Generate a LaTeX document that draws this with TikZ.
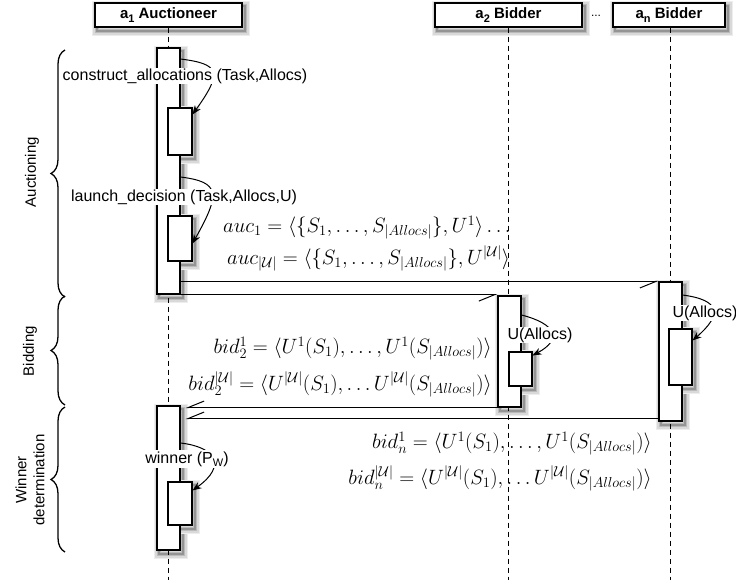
\documentclass[tikz,border=0pt]{standalone}
\usepackage[no-math]{fontspec}
\newfontfamily\hv{Liberation Sans}
\usepackage{amsmath}
\usetikzlibrary{arrows.meta,decorations.pathreplacing}
\pgfdeclarelayer{background}
\pgfsetlayers{background,main}
\newcommand{\lowsub}[2]{#1\raisebox{-3.5pt}{\fontsize{11}{12}\selectfont #2}}
\newcommand{\AL}{\smash{|Allocs|}}
\newcommand{\UU}{\smash{|\mathcal{U}|}}
\newcommand{\shadowof}[1]{%
  \draw[black!7,line width=10pt] ([xshift=2.5pt,yshift=-3.5pt]#1.north west) rectangle ([xshift=2.5pt,yshift=-3.5pt]#1.south east);
  \draw[black!15,line width=7pt] ([xshift=2.5pt,yshift=-3.5pt]#1.north west) rectangle ([xshift=2.5pt,yshift=-3.5pt]#1.south east);
  \draw[black!27,line width=4pt] ([xshift=2.5pt,yshift=-3.5pt]#1.north west) rectangle ([xshift=2.5pt,yshift=-3.5pt]#1.south east);
  \draw[black!42,line width=1.5pt] ([xshift=2.5pt,yshift=-3.5pt]#1.north west) rectangle ([xshift=2.5pt,yshift=-3.5pt]#1.south east);}
\begin{document}
\begin{tikzpicture}[x=1pt,y=-1pt,
  head/.style={draw,line width=1.2pt,fill=white,minimum height=24pt,inner sep=0pt,
    font=\hv\bfseries\fontsize{15}{18}\selectfont},
  bar/.style={draw,line width=1.1pt,fill=white,minimum width=23pt,inner sep=0pt},
  life/.style={line width=1pt,dash pattern=on 5pt off 4pt},
  lbl/.style={fill=white,inner sep=1pt,font=\hv\fontsize{16}{19}\selectfont},
  self/.style={line width=1pt,-{Stealth[length=9pt,width=7pt]}},
  msg/.style={line width=1pt,-{Straight Barb[right,length=16pt,width=13pt]}},
  frm/.style={inner sep=0pt,font=\fontsize{20}{24}\selectfont},
  brc/.style={line width=1.3pt,decorate,decoration={brace,amplitude=14pt,aspect=0.5}},
  phase/.style={font=\hv\fontsize{15}{18}\selectfont,rotate=90,align=center}]
\useasboundingbox (0,0) rectangle (736,582);
% headers
\node[head,minimum width=147pt] (h1) at (168.5,15) {\lowsub{a}{1} Auctioneer};
\node[head,minimum width=147pt] (h2) at (508.5,15) {\lowsub{a}{2} Bidder};
\node[head,minimum width=112pt] (hn) at (669,15) {\lowsub{a}{n} Bidder};
\node[font=\hv\fontsize{12}{14}\selectfont] (dots) at (596,16) {...};
% lifelines
\coordinate (e1) at (168,580);
\coordinate (e2) at (508,580);
\coordinate (en) at (670,580);
\draw[life] (h1.south -| e1) -- (e1);
\draw[life] (h2.south -| e2) -- (e2);
\draw[life] (hn.south -| en) -- (en);
% activation bars
\node[bar,minimum height=246pt] (A1) at (168.5,171) {};
\node[bar,minimum width=24pt,minimum height=47pt] (I1) at (180,131.5) {};
\node[bar,minimum width=24pt,minimum height=45pt] (I2) at (180,238.5) {};
\node[bar,minimum height=144pt] (A2) at (168.5,478) {};
\node[bar,minimum width=24pt,minimum height=43pt] (I3) at (180,503.5) {};
\node[bar,minimum height=111pt] (B2) at (509.5,351.5) {};
\node[bar,minimum height=34pt] (IB2) at (520.5,369) {};
\node[bar,minimum height=139pt] (BN) at (670.5,351.5) {};
\node[bar,minimum height=56pt] (IBN) at (680.5,357) {};
% drop shadows
\begin{pgfonlayer}{background}
\shadowof{h1}\shadowof{h2}\shadowof{hn}
\shadowof{A1}\shadowof{I1}\shadowof{I2}\shadowof{A2}\shadowof{I3}
\shadowof{B2}\shadowof{IB2}\shadowof{BN}\shadowof{IBN}
\end{pgfonlayer}
% self calls
\draw[self] (A1.east |- 0,59) .. controls +(40,5) and +(30,-42) .. ([yshift=-7pt]I1.north east);
\node[lbl] (l1) at (185,76) {construct\_allocations (Task,Allocs)};
\draw[self] (A1.east |- 0,177) .. controls +(40,5) and +(28,-50) .. ([yshift=-28pt]I2.north east);
\node[lbl] (l2) at (184,197) {launch\_decision (Task,Allocs,U)};
\draw[self] (A2.east |- 0,443) .. controls +(35,4) and +(35,-25) .. ([yshift=-9pt]I3.north east);
\node[lbl] (l3) at (187,459) {winner (\lowsub{P}{W})};
\draw[self] (B2.east |- 0,315) .. controls +(35,9) and +(30,-16) .. ([yshift=-4pt]IB2.north east);
\node[lbl] (l4) at (540,335) {U(Allocs)};
\draw[self] (BN.east |- 0,295) .. controls +(38,5) and +(30,-26) .. ([yshift=-12pt]IBN.north east);
\node[lbl] (l5) at (705,313) {U(Allocs)};
% messages
\draw[msg] (A1.east |- BN.north west) -- (BN.north west);
\draw[msg] (A1.south east) -- (A1.south east -| B2.west);
\draw[msg,shorten >=5pt] (B2.south west) -- (B2.south west -| A2.east);
\draw[msg,shorten >=5pt] ([yshift=3pt]BN.south west) -- ([yshift=3pt]BN.south west -| A2.east);
% formulas
\node[frm,anchor=west] (f1) at (223,227) {$auc_1 = \langle\{S_1,\ldots,S_{\AL}\},U^1\rangle\ldots$};
\node[frm,anchor=west] (f2) at (227,259) {$auc_{\UU} = \langle\{S_1,\ldots,S_{\AL}\},U^{\UU}\rangle$};
\node[frm,anchor=east] (f3) at (492,348) {$bid_2^1 = \langle U^1(S_1),\ldots,U^1(S_{\AL})\rangle$};
\node[frm,anchor=east] (f4) at (492,385) {$bid_2^{\UU} = \langle U^{\UU}(S_1),\ldots U^{\UU}(S_{\AL})\rangle$};
\node[frm,anchor=east] (f5) at (652,443) {$bid_n^1 = \langle U^1(S_1),\ldots,U^1(S_{\AL})\rangle$};
\node[frm,anchor=east] (f6) at (652,479) {$bid_n^{\UU} = \langle U^{\UU}(S_1),\ldots U^{\UU}(S_{\AL})\rangle$};
% phases
\draw[brc] (65,297) -- (65,50);
\draw[brc] (65,405) -- (65,296);
\draw[brc] (65,552) -- (65,407);
\node[phase] (p1) at (32,172) {Auctioning};
\node[phase] (p2) at (30,351) {Bidding};
\node[phase] (p3) at (30,480) {Winner\\determination};
\end{tikzpicture}
\end{document}
